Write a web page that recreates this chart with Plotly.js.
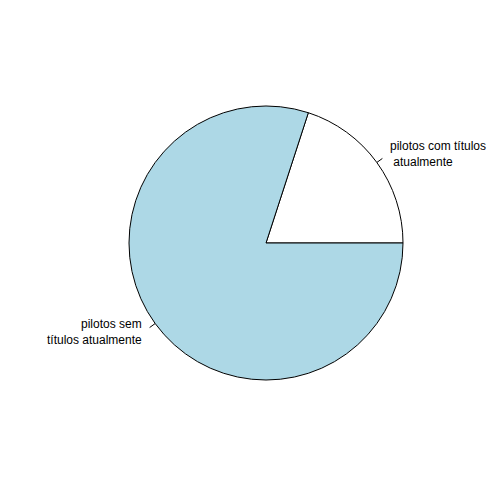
<!DOCTYPE html>
<html>
<head>
<meta charset="utf-8">
<script src="https://cdn.plot.ly/plotly-3.0.1.min.js"></script>
<style>html,body{margin:0;padding:0;background:#fff;}#chart{width:504px;height:504px;}</style>
</head>
<body>
<div id="chart"></div>
<script>
const labels = ["pilotos com títulos<br> atualmente", "pilotos sem<br>títulos atualmente"];
const values = [1, 4];
const colors = ["#FFFFFF", "#ADD8E6"];

const W = 504, H = 504;
const cx = 266, cy = 243, r = 137;

const total = values.reduce((a, b) => a + b, 0);
const annotations = [];
const shapes = [];
let start = 0;
values.forEach((v, i) => {
  const frac = v / total;
  const mid = (start + frac / 2) * 2 * Math.PI;
  start += frac;
  const c = Math.cos(mid), s = Math.sin(mid);
  const px = (rr) => (cx + rr * r * c) / W;
  const py = (rr) => 1 - (cy - rr * r * s) / H;
  shapes.push({type: "line", xref: "paper", yref: "paper",
    x0: px(1.0), y0: py(1.0), x1: px(1.05), y1: py(1.05),
    line: {color: "#000", width: 1}});
  annotations.push({xref: "paper", yref: "paper", x: px(1.1), y: py(1.1),
    text: labels[i], showarrow: false,
    xanchor: c > 0 ? "left" : "right", yanchor: "middle",
    align: c > 0 ? "left" : "right",
    font: {family: "Liberation Sans, Arial, sans-serif", size: 12, color: "#000"}});
});

// R draws counterclockwise from 3 o'clock; equivalently clockwise starting at end of first slice
const firstEndDeg = 360 * values[0] / total;
const trace = {
  type: "pie",
  values: values,
  labels: ["a", "b"],
  sort: false,
  direction: "clockwise",
  rotation: 90 - firstEndDeg,
  textinfo: "none",
  hoverinfo: "none",
  showlegend: false,
  marker: {colors: colors, line: {color: "#000", width: 1}},
  domain: {x: [(cx - r) / W, (cx + r) / W], y: [1 - (cy + r) / H, 1 - (cy - r) / H]}
};

Plotly.newPlot("chart", [trace], {
  width: W, height: H,
  margin: {l: 0, r: 0, t: 0, b: 0},
  paper_bgcolor: "#fff",
  showlegend: false,
  annotations: annotations,
  shapes: shapes
}, {displayModeBar: false, staticPlot: true});
</script>
</body>
</html>
